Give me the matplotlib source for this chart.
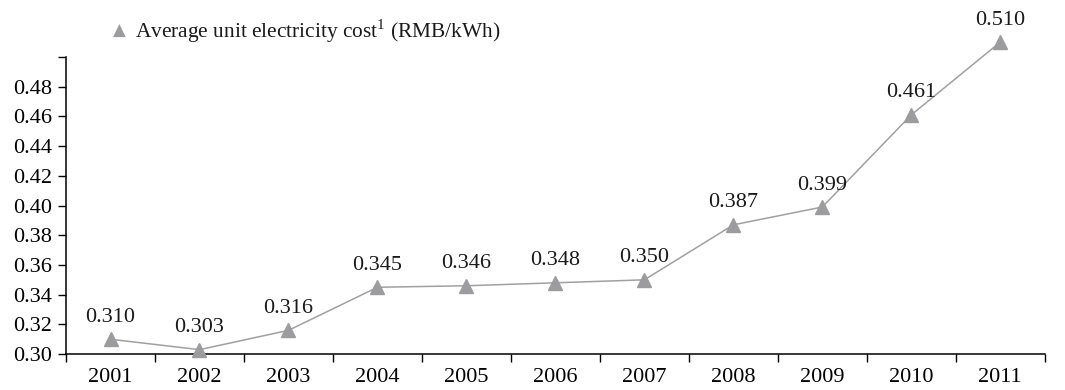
import matplotlib
matplotlib.use('Agg')
import matplotlib.pyplot as plt

plt.rcParams['font.family'] = ['Liberation Serif', 'DejaVu Serif']
plt.rcParams['mathtext.fontset'] = 'custom'
plt.rcParams['mathtext.rm'] = 'Liberation Serif'

years = ['2001', '2002', '2003', '2004', '2005', '2006', '2007', '2008', '2009', '2010', '2011']
cost = [0.310, 0.303, 0.316, 0.345, 0.346, 0.348, 0.350, 0.387, 0.399, 0.461, 0.510]
yticks = [0.30, 0.32, 0.34, 0.36, 0.38, 0.40, 0.42, 0.44, 0.46, 0.48, 0.50]

fig = plt.figure(figsize=(10.65, 3.9), dpi=100)
ax = fig.add_axes([0.062, 0.092, 0.919, 0.762])

x = list(range(len(years)))
ax.plot(x, cost, color='#a0a0a0', lw=1.1, marker='^', ms=10,
        markerfacecolor='#9c9c9e', markeredgecolor='#9c9c9e', clip_on=False, zorder=3)
for xi, v in zip(x, cost):
    ax.annotate('%.3f' % v, (xi, v), xytext=(0, 9), textcoords='offset points',
                ha='center', va='bottom', fontsize=16, color='#1a1a1a',
                annotation_clip=False)

ax.set_xlim(-0.5, len(years) - 0.5)
ax.set_ylim(0.30, 0.50)
ax.set_yticks(yticks)
ax.set_yticklabels(['%.2f' % t for t in yticks[:-1]] + [''])
ax.set_xticks(x)
ax.set_xticklabels(years)
ax.set_xticks([i - 0.5 for i in range(len(years) + 1)], minor=True)
ax.tick_params(axis='x', which='major', length=0, pad=10, labelsize=16)
ax.tick_params(axis='x', which='minor', length=6, width=1, direction='out')
ax.tick_params(axis='y', length=6, width=1, direction='out', labelsize=16, pad=4)
ax.spines['top'].set_visible(False)
ax.spines['right'].set_visible(False)
for s in ['left', 'bottom']:
    ax.spines[s].set_linewidth(1.1)

# legend drawn by hand: grey triangle + label
fig.text(0.1125, 0.92, '\u25B2', fontsize=12, color='#9c9c9e', ha='center', va='center',
         family='DejaVu Sans')
fig.text(0.127, 0.92, 'Average unit electricity cost$^{1}$ (RMB/kWh)', fontsize=15.4,
         ha='left', va='center', color='#1a1a1a')

fig.savefig('out.png', dpi=100)
